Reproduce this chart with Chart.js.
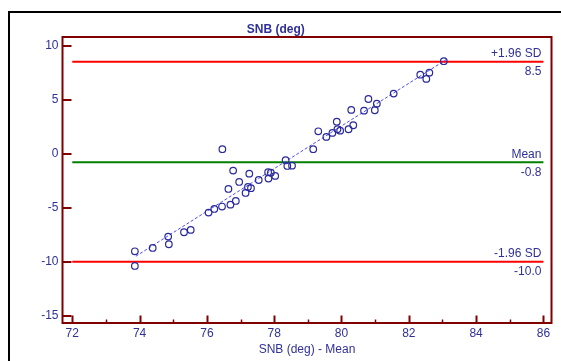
<!DOCTYPE html>
<html>
<head>
<meta charset="utf-8">
<script src="https://cdn.jsdelivr.net/npm/chart.js@4/dist/chart.umd.min.js"></script>
<style>
  html, body { margin: 0; padding: 0; background: #fff; }
  #wrap { width: 561px; height: 361px; }
</style>
</head>
<body>
<div id="wrap"><canvas id="myChart" width="561" height="361"></canvas></div>
<script>
// Bland-Altman data: mean of the two methods vs. their difference
const meanX = [
  76.46, 76.78, 77.26, 76.64, 76.96, 77.22, 77.31, 77.15, 76.86, 76.70,
  76.45, 76.22, 76.05, 75.52, 75.32, 74.85, 74.87, 74.39, 73.86, 73.86,
  77.54, 77.82, 77.90, 77.83, 78.03, 78.34, 78.39, 78.53, 83.04, 82.34,
  82.61, 82.52, 81.55, 80.80, 81.05, 80.99, 80.67, 80.29, 79.86, 79.31,
  79.55, 79.73, 79.88, 79.96, 80.21, 80.35, 79.16
];
const diffY = [
  0.41, -1.57, -1.85, -3.27, -2.62, -3.08, -3.20, -3.64, -4.38, -4.72,
  -4.90, -5.12, -5.46, -7.06, -7.28, -7.68, -8.39, -8.73, -9.04, -10.40,
  -2.44, -1.72, -1.76, -2.31, -2.06, -0.61, -1.14, -1.11, 8.56, 7.31,
  7.50, 6.92, 5.56, 5.06, 4.63, 4.02, 3.98, 4.05, 2.96, 2.07,
  1.55, 1.92, 2.26, 2.13, 2.26, 2.63, 0.41
];

// regression line end points
const fitX = [73.89, 83.13];
const fitY = [-9.5, 8.74];

// limits of agreement
const limitNames = ["+1.96 SD", "Mean", "-1.96 SD"];
const limitValues = [8.5, -0.8, -10.0];
const limitText = ["8.5", "-0.8", "-10.0"];
const limitColors = ["#ff0000", "#008000", "#ff0000"];
const lineSpan = [72, 86];

// axes
const xTicks = [72, 73, 74, 75, 76, 77, 78, 79, 80, 81, 82, 83, 84, 85, 86];
const xMajor = [72, 74, 76, 78, 80, 82, 84, 86];
const yTicks = [-15, -10, -5, 0, 5, 10];

const navy = "#30309a";
const maroon = "#800000";
const fontFam = "'Liberation Sans', Arial, sans-serif";

const points = meanX.map((x, i) => ({ x: x, y: diffY[i] }));

const datasets = [
  {
    type: "scatter",
    label: "diff",
    data: points,
    pointStyle: "circle",
    pointRadius: 3.3,
    pointBorderWidth: 1.2,
    pointBorderColor: "#2a2a9c",
    pointBackgroundColor: "rgba(0,0,0,0)",
    showLine: false,
    order: 0
  },
  {
    type: "line",
    label: "fit",
    data: fitX.map((x, i) => ({ x: x, y: fitY[i] })),
    borderColor: "#4a4aff",
    borderWidth: 1,
    borderDash: [3, 2],
    pointRadius: 0,
    fill: false,
    order: 1
  }
];

limitValues.forEach((v, i) => {
  datasets.push({
    type: "line",
    label: limitNames[i],
    data: lineSpan.map(x => ({ x: x, y: v })),
    borderColor: limitColors[i],
    borderWidth: 2,
    pointRadius: 0,
    fill: false,
    order: 2
  });
});

// white page with the black frame of the surrounding figure
const pageFrame = {
  id: "pageFrame",
  beforeDraw(chart) {
    const ctx = chart.ctx;
    ctx.save();
    ctx.fillStyle = "#fff";
    ctx.fillRect(0, 0, chart.width, chart.height);
    ctx.strokeStyle = "#000";
    ctx.lineWidth = 2;
    ctx.beginPath();
    ctx.moveTo(9, chart.height + 2);
    ctx.lineTo(9, 12);
    ctx.lineTo(chart.width + 2, 12);
    ctx.stroke();
    ctx.restore();
  }
};

// maroon box and inward tick marks
const boxTicks = {
  id: "boxTicks",
  afterDraw(chart) {
    const { ctx, chartArea: a, scales: { x, y } } = chart;
    ctx.save();
    ctx.strokeStyle = maroon;
    ctx.lineWidth = 2;
    ctx.strokeRect(a.left, a.top, a.right - a.left, a.bottom - a.top);

    xTicks.forEach(v => {
      const px = Math.round(x.getPixelForValue(v)) + 0.5;
      const major = xMajor.includes(v);
      ctx.lineWidth = major ? 2 : 1.5;
      ctx.beginPath();
      ctx.moveTo(px, a.bottom);
      ctx.lineTo(px, a.bottom - (major ? 7.5 : 3.5));
      ctx.stroke();
    });
    yTicks.forEach(v => {
      const py = Math.round(y.getPixelForValue(v));
      ctx.lineWidth = 2;
      ctx.beginPath();
      ctx.moveTo(a.left, py);
      ctx.lineTo(a.left + 9, py);
      ctx.stroke();
    });
    ctx.restore();
  }
};

// labels on the limit lines
const limitLabels = {
  id: "limitLabels",
  afterDatasetsDraw(chart) {
    const { ctx, scales: { x, y } } = chart;
    const rx = x.getPixelForValue(lineSpan[1]) - 2;
    ctx.save();
    ctx.font = "12px " + fontFam;
    ctx.fillStyle = navy;
    ctx.textAlign = "right";
    ctx.textBaseline = "middle";
    limitValues.forEach((v, i) => {
      const py = y.getPixelForValue(v);
      ctx.fillText(limitNames[i], rx, py - 8);
      ctx.fillText(limitText[i], rx, py + 10);
    });
    ctx.restore();
  }
};

const config = {
  type: "scatter",
  data: { datasets: datasets },
  options: {
    responsive: false,
    animation: false,
    layout: { padding: { top: 22, right: 9.5, bottom: 0, left: 0 } },
    plugins: {
      legend: { display: false },
      tooltip: { enabled: false },
      title: {
        display: true,
        text: "SNB (deg)",
        color: navy,
        font: { family: fontFam, size: 12, weight: "bold" },
        padding: { top: 0, bottom: 0.6 }
      }
    },
    scales: {
      x: {
        type: "linear",
        min: 71.71,
        max: 86.24,
        afterBuildTicks: s => { s.ticks = xTicks.map(v => ({ value: v })); },
        afterFit: s => { s.height = 38; },
        grid: { display: false, drawTicks: false },
        border: { display: false },
        ticks: {
          autoSkip: false,
          maxRotation: 0,
          padding: 3,
          color: navy,
          font: { family: fontFam, size: 12 },
          callback: v => (xMajor.includes(v) ? String(v) : "")
        },
        title: {
          display: true,
          text: "SNB (deg) - Mean",
          color: navy,
          font: { family: fontFam, size: 12 },
          padding: { top: 0, bottom: 4.5 }
        }
      },
      y: {
        type: "linear",
        min: -15.68,
        max: 10.8,
        afterBuildTicks: s => { s.ticks = yTicks.map(v => ({ value: v })); },
        afterFit: s => { s.width = 62.5; },
        grid: { display: false, drawTicks: false },
        border: { display: false },
        ticks: {
          autoSkip: false,
          padding: 4,
          color: navy,
          font: { family: fontFam, size: 12 }
        }
      }
    }
  },
  plugins: [pageFrame, boxTicks, limitLabels]
};

const chart = new Chart(document.getElementById("myChart").getContext("2d"), config);
</script>
</body>
</html>
